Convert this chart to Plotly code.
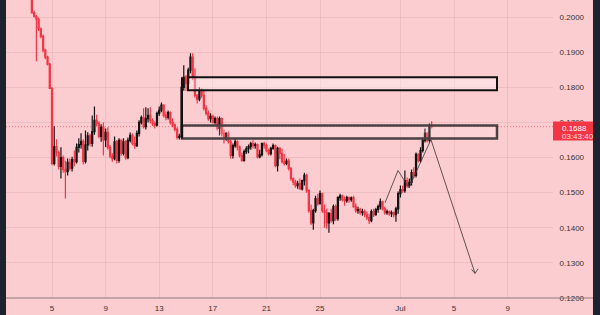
import pandas as pd
import plotly.graph_objects as go

# ---------------- data ----------------
candle_start = "2023-06-03 12:00"
candle_freq = "4h"

opens = [
    .2049, .2012, .2002, .1994, .1966, .1945, .1906, .1886, .1866, .1797,
    .1583, .1631, .1615, .1575, .1600, .1566, .1560, .1586, .1570, .1594,
    .1588, .1629, .1637, .1646, .1589, .1636, .1662, .1640, .1674, .1706,
    .1697, .1660, .1686, .1650, .1672, .1628, .1604, .1597, .1645, .1592,
    .1649, .1612, .1645, .1600, .1649, .1663, .1640, .1634, .1669, .1700,
    .1714, .1688, .1711, .1720, .1705, .1697, .1692, .1726, .1735, .1749,
    .1720, .1714, .1728, .1700, .1692, .1680, .1657, .1660, .1800, .1829,
    .1811, .1849, .1886, .1829, .1777, .1766, .1791, .1777, .1740, .1726,
    .1711, .1717, .1700, .1711, .1683, .1711, .1669, .1657, .1669, .1645,
    .1606, .1634, .1645, .1630, .1605, .1592, .1617, .1625, .1631, .1640,
    .1634, .1637, .1602, .1608, .1640, .1634, .1620, .1611, .1626, .1634,
    .1577, .1626, .1612, .1588, .1583, .1590, .1569, .1540, .1530, .1520,
    .1526, .1511, .1534, .1549, .1506, .1449, .1414, .1449, .1483, .1469,
    .1497, .1449, .1443, .1414, .1440, .1420, .1460, .1426, .1486, .1491,
    .1480, .1477, .1486, .1480, .1485, .1460, .1449, .1452, .1443, .1446,
    .1437, .1429, .1420, .1446, .1437, .1452, .1460, .1474, .1454, .1443,
    .1446, .1440, .1443, .1437, .1454, .1497, .1509, .1506, .1534, .1520,
    .1529, .1557, .1549, .1609, .1591, .1620, .1649, .1669, .1649, .1691,
]
highs = [
    .2052, .2018, .2006, .1999, .1970, .1950, .1910, .1890, .1869, .1800,
    .1689, .1652, .1620, .1629, .1606, .1591, .1597, .1597, .1602, .1620,
    .1640, .1655, .1669, .1652, .1677, .1672, .1668, .1720, .1745, .1722,
    .1703, .1695, .1700, .1683, .1686, .1636, .1612, .1660, .1650, .1655,
    .1652, .1655, .1650, .1657, .1671, .1669, .1660, .1677, .1706, .1720,
    .1740, .1743, .1740, .1743, .1712, .1703, .1731, .1745, .1757, .1752,
    .1731, .1734, .1732, .1711, .1697, .1686, .1668, .1820, .1863, .1835,
    .1856, .1897, .1897, .1854, .1780, .1800, .1797, .1791, .1749, .1734,
    .1726, .1722, .1717, .1717, .1717, .1714, .1680, .1672, .1674, .1650,
    .1640, .1655, .1649, .1634, .1614, .1623, .1632, .1637, .1645, .1649,
    .1643, .1640, .1622, .1643, .1645, .1640, .1625, .1631, .1640, .1637,
    .1631, .1629, .1625, .1610, .1597, .1597, .1572, .1543, .1537, .1534,
    .1540, .1537, .1557, .1554, .1510, .1466, .1454, .1491, .1497, .1506,
    .1500, .1466, .1454, .1445, .1454, .1466, .1466, .1490, .1497, .1494,
    .1489, .1491, .1489, .1489, .1491, .1469, .1460, .1457, .1454, .1452,
    .1446, .1440, .1452, .1454, .1457, .1466, .1483, .1477, .1460, .1452,
    .1449, .1449, .1446, .1460, .1503, .1520, .1520, .1563, .1543, .1540,
    .1566, .1572, .1614, .1612, .1629, .1657, .1683, .1672, .1697, .1703,
]
lows = [
    .2010, .1999, .1874, .1960, .1940, .1900, .1880, .1862, .1795, .1578,
    .1577, .1603, .1566, .1540, .1557, .1483, .1549, .1563, .1560, .1575,
    .1583, .1614, .1625, .1580, .1583, .1620, .1632, .1631, .1665, .1690,
    .1655, .1645, .1606, .1630, .1622, .1598, .1588, .1592, .1583, .1585,
    .1605, .1606, .1594, .1595, .1643, .1635, .1625, .1630, .1660, .1694,
    .1683, .1680, .1700, .1697, .1690, .1683, .1688, .1718, .1729, .1714,
    .1706, .1708, .1694, .1686, .1674, .1651, .1651, .1655, .1790, .1790,
    .1806, .1840, .1820, .1770, .1754, .1760, .1770, .1734, .1720, .1705,
    .1700, .1697, .1694, .1677, .1663, .1660, .1640, .1648, .1640, .1597,
    .1597, .1628, .1620, .1600, .1588, .1588, .1610, .1612, .1622, .1626,
    .1625, .1597, .1598, .1603, .1625, .1615, .1606, .1606, .1622, .1572,
    .1560, .1595, .1583, .1577, .1578, .1563, .1534, .1522, .1514, .1511,
    .1508, .1506, .1520, .1500, .1443, .1408, .1394, .1443, .1463, .1466,
    .1443, .1400, .1397, .1386, .1414, .1410, .1420, .1420, .1477, .1475,
    .1463, .1471, .1471, .1474, .1457, .1443, .1440, .1437, .1434, .1431,
    .1422, .1411, .1416, .1431, .1434, .1443, .1452, .1449, .1437, .1437,
    .1434, .1431, .1429, .1417, .1440, .1486, .1500, .1500, .1514, .1514,
    .1520, .1543, .1543, .1586, .1586, .1614, .1643, .1643, .1643, .1683,
]
closes = [
    .2012, .2002, .1994, .1966, .1945, .1906, .1886, .1866, .1797, .1583,
    .1631, .1615, .1575, .1600, .1566, .1560, .1586, .1570, .1594, .1588,
    .1629, .1637, .1646, .1589, .1636, .1662, .1640, .1674, .1706, .1697,
    .1660, .1686, .1650, .1672, .1628, .1604, .1597, .1645, .1592, .1649,
    .1612, .1645, .1600, .1649, .1663, .1640, .1634, .1669, .1700, .1714,
    .1688, .1711, .1720, .1705, .1697, .1692, .1726, .1735, .1749, .1720,
    .1714, .1728, .1700, .1692, .1680, .1657, .1660, .1800, .1829, .1811,
    .1849, .1886, .1829, .1777, .1766, .1791, .1777, .1740, .1726, .1711,
    .1717, .1700, .1711, .1683, .1711, .1669, .1657, .1669, .1645, .1606,
    .1634, .1645, .1630, .1605, .1592, .1617, .1625, .1631, .1640, .1634,
    .1637, .1602, .1608, .1640, .1634, .1620, .1611, .1626, .1634, .1577,
    .1626, .1612, .1588, .1583, .1590, .1569, .1540, .1530, .1520, .1526,
    .1511, .1534, .1549, .1506, .1449, .1414, .1449, .1483, .1469, .1497,
    .1449, .1443, .1414, .1440, .1420, .1460, .1426, .1486, .1491, .1480,
    .1477, .1486, .1480, .1485, .1460, .1449, .1452, .1443, .1446, .1437,
    .1429, .1420, .1446, .1437, .1452, .1460, .1474, .1454, .1443, .1446,
    .1440, .1443, .1437, .1454, .1497, .1509, .1506, .1534, .1520, .1529,
    .1557, .1549, .1609, .1591, .1620, .1649, .1669, .1649, .1691, .1688,
]

last_price = 0.1688
countdown = "03:43:40"

tick_dates = ["2023-06-05", "2023-06-09", "2023-06-13", "2023-06-17", "2023-06-21",
              "2023-06-25", "2023-07-01", "2023-07-05", "2023-07-09"]
tick_labels = ["5", "9", "13", "17", "21", "25", "Jul", "5", "9"]
price_ticks = [0.12, 0.13, 0.14, 0.15, 0.16, 0.17, 0.18, 0.19, 0.20]

# drawings (zones and projection path)
zone_upper_x = ["2023-06-15 03:36", "2023-07-08 05:00"]
zone_upper_y = [0.17914, 0.18286]
zone_lower_x = ["2023-06-14 16:48", "2023-07-08 05:00"]
zone_lower_y = [0.16543, 0.16914]
path_t = ["2023-06-29 20:24", "2023-06-30 19:41", "2023-07-01 15:22",
          "2023-07-03 06:43", "2023-07-06 13:36"]
path_p = [0.1471, 0.1563, 0.1514, 0.1651, 0.1270]
head_t = ["2023-07-06 07:20", "2023-07-06 13:36", "2023-07-06 18:59"]
head_p = [0.12814, 0.1270, 0.12829]

x_range = ["2023-06-01 13:36", "2023-07-12 09:18"]
y_range = [0.12, 0.204857]

# ---------------- figure ----------------
PINK = "#fccdd0"
DARK = "#1e222d"
RED = "#f23645"
UP = "#131313"
GRID = "rgba(190,120,125,0.18)"
TXT = "#333333"
FONT = "Liberation Sans"

times = pd.date_range(candle_start, periods=len(closes), freq=candle_freq)

fig = go.Figure()

fig.add_trace(go.Scatter(x=path_t, y=path_p, mode="lines",
                         line=dict(color="rgba(70,60,62,0.85)", width=1),
                         hoverinfo="skip"))
fig.add_trace(go.Scatter(x=head_t, y=head_p, mode="lines",
                         line=dict(color="rgba(70,60,62,0.85)", width=1),
                         hoverinfo="skip"))

fig.add_trace(go.Candlestick(
    x=times, open=opens, high=highs, low=lows, close=closes,
    increasing=dict(line=dict(color=UP, width=1.2), fillcolor=UP),
    decreasing=dict(line=dict(color=RED, width=1.2), fillcolor=RED),
    whiskerwidth=0,
))

shapes = [
    # pink canvas behind everything (price scale + time scale area)
    dict(type="rect", xref="paper", yref="paper", x0=0, x1=1.0731, y0=-0.1, y1=1.1,
         fillcolor=PINK, line=dict(width=0), layer="below"),
    # time axis line
    dict(type="line", xref="paper", yref="paper", x0=0, x1=1.0731, y0=0, y1=0,
         line=dict(color="#8c7b7e", width=1)),
    # last price dotted line
    dict(type="line", xref="paper", yref="y", x0=0, x1=1, y0=last_price, y1=last_price,
         line=dict(color="rgba(242,54,69,0.6)", width=1, dash="1px,2px"), layer="below"),
    # zones
    dict(type="rect", xref="x", yref="y", x0=zone_upper_x[0], x1=zone_upper_x[1],
         y0=zone_upper_y[0], y1=zone_upper_y[1],
         fillcolor="rgba(255,255,255,0.35)", line=dict(color="#111111", width=2)),
    dict(type="rect", xref="x", yref="y", x0=zone_lower_x[0], x1=zone_lower_x[1],
         y0=zone_lower_y[0], y1=zone_lower_y[1],
         fillcolor="rgba(255,255,255,0.15)", line=dict(color="#4a4042", width=2.5)),
    dict(type="line", xref="x", yref="y", x0=zone_lower_x[0], x1=zone_lower_x[0],
         y0=zone_lower_y[0], y1=zone_upper_y[1], line=dict(color="#111111", width=2)),
    # last price label box
    dict(type="rect", xref="paper", yref="y", x0=1.0, x1=1.0731, y0=0.16486, y1=0.17029,
         fillcolor=RED, line=dict(width=0)),
]

annotations = [
    dict(xref="paper", yref="y", x=1.0128, y=0.1683, text=f"{last_price:.4f}",
         showarrow=False, xanchor="left", yanchor="middle",
         font=dict(family=FONT, size=8, color="white")),
    dict(xref="paper", yref="y", x=1.0128, y=0.1661, text=countdown,
         showarrow=False, xanchor="left", yanchor="middle",
         font=dict(family=FONT, size=8, color="rgba(255,255,255,0.85)")),
]

fig.update_layout(
    width=600, height=315,
    margin=dict(l=6, r=47, t=0, b=17),
    paper_bgcolor=DARK, plot_bgcolor=PINK,
    showlegend=False,
    shapes=shapes, annotations=annotations,
    font=dict(family=FONT, size=8, color=TXT),
    xaxis=dict(
        type="date", range=x_range, rangeslider=dict(visible=False),
        tickvals=tick_dates, ticktext=tick_labels,
        showgrid=True, gridcolor=GRID, gridwidth=1, zeroline=False,
        showline=False, ticks="outside", ticklen=2, tickcolor="rgba(0,0,0,0)",
        tickfont=dict(family=FONT, size=8, color=TXT),
    ),
    yaxis=dict(
        side="right", range=y_range,
        tickvals=price_ticks, ticktext=[f"{v:.4f}" for v in price_ticks],
        showgrid=True, gridcolor=GRID, gridwidth=1, zeroline=False,
        showline=False, ticks="outside", ticklen=4, tickcolor="rgba(0,0,0,0)",
        tickfont=dict(family=FONT, size=8, color=TXT),
    ),
)

fig.write_html("out.html")
